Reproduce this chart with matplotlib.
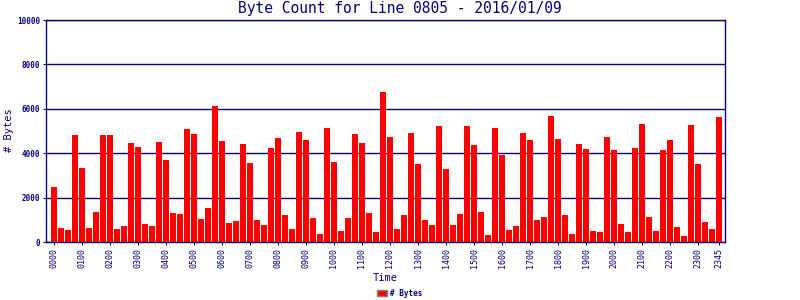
import numpy as np
import matplotlib
matplotlib.use("Agg")
import matplotlib.pyplot as plt
from matplotlib.patches import Patch

# byte counts per 15 minute slot, 0000 .. 2345
byte_counts = [
    2500, 650, 560, 4840, 3350, 650, 1370, 4840, 4840, 600, 740, 4480,
    4300, 830, 740, 4530, 3710, 1320, 1280, 5110, 4890, 1050, 1550, 6150,
    4570, 870, 960, 4440, 3580, 1010, 780, 4260, 4710, 1230, 600, 4980,
    4620, 1100, 380, 5160, 3620, 510, 1100, 4890, 4480, 1320, 470, 6780,
    4750, 600, 1230, 4930, 3530, 1010, 780, 5250, 3310, 780, 1280, 5250,
    4390, 1370, 330, 5160, 3940, 560, 740, 4930, 4620, 1010, 1140, 5700,
    4660, 1230, 380, 4440, 4210, 510, 470, 4750, 4170, 830, 470, 4260,
    5340, 1140, 510, 4170, 4620, 690, 290, 5290, 3530, 920, 600, 5650,
]
slots = np.arange(len(byte_counts))
tick_pos = list(range(0, 96, 4)) + [95]
tick_labels = ["%02d00" % h for h in range(24)] + ["2345"]

navy = "#000080"
mono = "DejaVu Sans Mono"

fig = plt.figure(figsize=(8, 3), dpi=100)
ax = fig.add_axes([0.0575, 0.193, 0.849, 0.74])

ax.bar(slots, byte_counts, width=0.85, color="#ff0000", zorder=3)

ax.set_xlim(-1.1, 95.85)
ax.set_ylim(0, 10000)
ax.set_yticks([0, 2000, 4000, 6000, 8000, 10000])
ax.set_yticklabels(["0", "2000", "4000", "6000", "8000", "10000"],
                   fontsize=5.5, fontweight="bold", family=mono, color=navy)
ax.set_xticks(tick_pos)
ax.set_xticklabels(tick_labels, rotation=90, fontsize=6, family=mono, color=navy)
ax.tick_params(axis="both", colors=navy, length=2, width=0.7, pad=2)
ax.grid(axis="y", color=navy, linewidth=1.0, zorder=1)
for s in ax.spines.values():
    s.set_color(navy)
    s.set_linewidth(1.0)

# title is centred on the whole image, not on the axes
fig.text(0.5, 0.972, "Byte Count for Line 0805 - 2016/01/09", family=mono,
         fontsize=10.5, color=navy, ha="center", va="center")
ax.set_xlabel("Time", family=mono, fontsize=7.5, color=navy, labelpad=4)
fig.text(0.011, 0.567, "# Bytes", family=mono, fontsize=7.5, color=navy,
         rotation=90, ha="center", va="center")

leg = fig.legend(handles=[Patch(facecolor="#ff0000", edgecolor="#808080", label="# Bytes")],
                 loc="lower center", bbox_to_anchor=(0.5, -0.015), frameon=False,
                 prop={"family": mono, "size": 5.5, "weight": "bold"},
                 handlelength=1.3, handleheight=1.0, handletextpad=0.4)
for t in leg.get_texts():
    t.set_color(navy)

fig.savefig("out.png", dpi=100)
